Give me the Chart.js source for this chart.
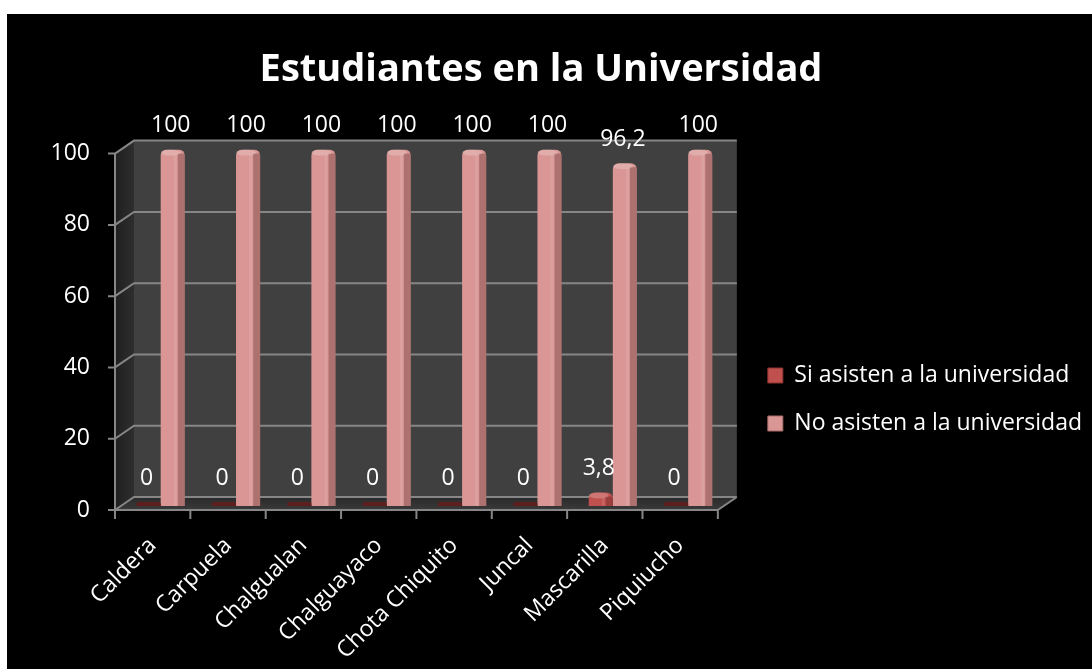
<!DOCTYPE html>
<html lang="es">
<head>
<meta charset="utf-8">
<title>Estudiantes en la Universidad</title>
<script src="https://cdn.jsdelivr.net/npm/chart.js@4.4.1/dist/chart.umd.min.js"></script>
<style>
  html, body { margin: 0; padding: 0; background: #fff; }
  canvas { display: block; }
</style>
</head>
<body>
<canvas id="uniChart" width="1092" height="669"></canvas>
<script>
const comunidades = ['Caldera', 'Carpuela', 'Chalgualan', 'Chalguayaco', 'Chota Chiquito', 'Juncal', 'Mascarilla', 'Piquiucho'];
const si_asisten = [0, 0, 0, 0, 0, 0, 3.8, 0];
const no_asisten = [100, 100, 100, 100, 100, 100, 96.2, 100];
const y_ticks = [0, 20, 40, 60, 80, 100];

const FONT = '"Open Sans", sans-serif';
const GRID = '#868686';

// the bars stand on the chart area plane; the back wall sits behind it and the axis edge in front
const BACK = {x: 11, y: -9};
const FRONT = {x: -8, y: 4};

const SI_COLOR = '#c0504d';
const NO_COLOR = '#d99694';

function fmt(v) {
  return String(v).replace('.', ',');
}

// page background: white margin around a black chart frame
const framePlugin = {
  id: 'frame',
  beforeDraw(chart) {
    const ctx = chart.ctx;
    ctx.save();
    ctx.fillStyle = '#fff';
    ctx.fillRect(0, 0, chart.width, chart.height);
    ctx.fillStyle = '#000';
    ctx.fillRect(7, 14, chart.width - 7, chart.height - 14);
    ctx.restore();
  }
};

// walls, floor, grid lines and the front axis edges
const wallsPlugin = {
  id: 'walls',
  beforeDatasetsDraw(chart) {
    const ctx = chart.ctx;
    const ys = chart.scales.y;
    const L = chart.chartArea.left, R = chart.chartArea.right;
    const T = ys.getPixelForValue(100), B = ys.getPixelForValue(0);
    ctx.save();

    // back wall
    ctx.fillStyle = '#404040';
    ctx.fillRect(L + BACK.x, T + BACK.y, R - L, B - T);

    // side wall
    let g = ctx.createLinearGradient(L + FRONT.x, 0, L + BACK.x, 0);
    g.addColorStop(0, '#1f1f1f');
    g.addColorStop(1, '#2e2e2e');
    ctx.fillStyle = g;
    ctx.beginPath();
    ctx.moveTo(L + FRONT.x, T + FRONT.y);
    ctx.lineTo(L + BACK.x, T + BACK.y);
    ctx.lineTo(L + BACK.x, B + BACK.y);
    ctx.lineTo(L + FRONT.x, B + FRONT.y);
    ctx.closePath();
    ctx.fill();

    // floor
    g = ctx.createLinearGradient(0, B + BACK.y, 0, B + FRONT.y);
    g.addColorStop(0, '#2a2a2a');
    g.addColorStop(1, '#3a3a3a');
    ctx.fillStyle = g;
    ctx.beginPath();
    ctx.moveTo(L + BACK.x, B + BACK.y);
    ctx.lineTo(R + BACK.x, B + BACK.y);
    ctx.lineTo(R + FRONT.x, B + FRONT.y);
    ctx.lineTo(L + FRONT.x, B + FRONT.y);
    ctx.closePath();
    ctx.fill();

    ctx.strokeStyle = GRID;
    ctx.lineWidth = 2;
    ctx.beginPath();
    for (const v of y_ticks) {
      const y = ys.getPixelForValue(v);
      // back wall line + diagonal across the side wall
      ctx.moveTo(L + FRONT.x, y + FRONT.y);
      ctx.lineTo(L + BACK.x, y + BACK.y);
      ctx.lineTo(R + BACK.x, y + BACK.y);
      // tick on the front axis
      ctx.moveTo(L + FRONT.x - 7, y + FRONT.y);
      ctx.lineTo(L + FRONT.x, y + FRONT.y);
    }
    // front vertical axis
    ctx.moveTo(L + FRONT.x, T + FRONT.y);
    ctx.lineTo(L + FRONT.x, B + FRONT.y);
    // floor front edge and right edge
    ctx.lineTo(R + FRONT.x, B + FRONT.y);
    ctx.lineTo(R + BACK.x, B + BACK.y);
    // category ticks under the floor
    const n = comunidades.length;
    for (let i = 0; i <= n; i++) {
      const x = L + (R - L) * i / n + FRONT.x;
      ctx.moveTo(x, B + FRONT.y);
      ctx.lineTo(x, B + FRONT.y + 9);
    }
    ctx.stroke();
    ctx.restore();
  },

  // side shading, top caps and value labels on the bars
  afterDatasetsDraw(chart) {
    const ctx = chart.ctx;
    ctx.save();
    chart.data.datasets.forEach((ds, di) => {
      const meta = chart.getDatasetMeta(di);
      meta.data.forEach((bar, i) => {
        const v = ds.data[i];
        const {x, y, base, width} = bar.getProps(['x', 'y', 'base', 'width'], true);
        const right = x + width / 2;
        if (v > 0) {
          ctx.fillStyle = 'rgba(60, 20, 20, 0.28)';
          ctx.fillRect(right - 7, y + 4, 7, base - y - 4);
          ctx.fillStyle = 'rgba(255, 255, 255, 0.10)';
          ctx.fillRect(right - 11, y + 5, 3, base - y - 5);
          ctx.fillStyle = 'rgba(255, 255, 255, 0.22)';
          ctx.beginPath();
          ctx.ellipse(x - 2, y + 3, width / 2 - 2, 3, 0, 0, Math.PI * 2);
          ctx.fill();
        }
        ctx.fillStyle = '#fff';
        ctx.font = '23px ' + FONT;
        ctx.textAlign = 'center';
        ctx.textBaseline = 'middle';
        ctx.fillText(fmt(v), x - 2, y - 24);
      });
    });
    ctx.restore();
  }
};

// legend sits lower than the plot centre
const legendShift = {
  id: 'legendShift',
  afterLayout(chart) {
    const lg = chart.legend;
    lg.top += 58;
    lg.bottom += 58;
    lg.left += 17;
    lg.right += 17;
  }
};

const ctx = document.getElementById('uniChart');

new Chart(ctx, {
  type: 'bar',
  data: {
    labels: comunidades,
    datasets: [{
      label: 'Si asisten a la universidad',
      data: si_asisten,
      backgroundColor: (c) => c.raw === 0 ? '#5e1f1e' : SI_COLOR,
      minBarLength: 4,
      borderRadius: {topLeft: 6, topRight: 6},
      borderSkipped: 'bottom'
    }, {
      label: 'No asisten a la universidad',
      data: no_asisten,
      backgroundColor: NO_COLOR,
      borderRadius: {topLeft: 6, topRight: 6},
      borderSkipped: 'bottom'
    }]
  },
  options: {
    responsive: false,
    animation: false,
    devicePixelRatio: 1,
    categoryPercentage: 0.64,
    barPercentage: 1,
    layout: {padding: {left: 7, right: 17, top: 14, bottom: 0}},
    scales: {
      x: {
        grid: {display: false, drawTicks: false},
        border: {display: false},
        ticks: {
          color: '#fff',
          font: {family: FONT, size: 23},
          minRotation: 45,
          maxRotation: 45,
          autoSkip: false,
          padding: 26,
          labelOffset: -8
        },
        afterFit(scale) { scale.height = 669 - 506; }
      },
      y: {
        min: 0,
        max: 100,
        grid: {display: false, drawTicks: false},
        border: {display: false},
        afterBuildTicks(scale) { scale.ticks = y_ticks.map(v => ({value: v})); },
        ticks: {
          color: '#fff',
          font: {family: FONT, size: 23},
          padding: 33,
          labelOffset: 4
        },
        afterFit(scale) { scale.width = 123 - 7; }
      }
    },
    plugins: {
      title: {
        display: true,
        text: 'Estudiantes en la Universidad',
        color: '#fff',
        font: {family: FONT, size: 38, weight: 'bold', lineHeight: 1.2},
        padding: {top: 33, bottom: 57}
      },
      legend: {
        position: 'right',
        maxWidth: 354,
        labels: {
          color: '#fff',
          font: {family: FONT, size: 23},
          boxWidth: 15,
          boxHeight: 15,
          padding: 25,
          generateLabels(chart) {
            return chart.data.datasets.map((ds, i) => ({
              text: ds.label,
              fillStyle: i === 0 ? SI_COLOR : NO_COLOR,
              strokeStyle: i === 0 ? '#8c3331' : '#a86a68',
              lineWidth: 1,
              fontColor: '#fff',
              datasetIndex: i
            }));
          }
        }
      },
      tooltip: {enabled: false}
    }
  },
  plugins: [framePlugin, wallsPlugin, legendShift]
});
</script>
</body>
</html>
